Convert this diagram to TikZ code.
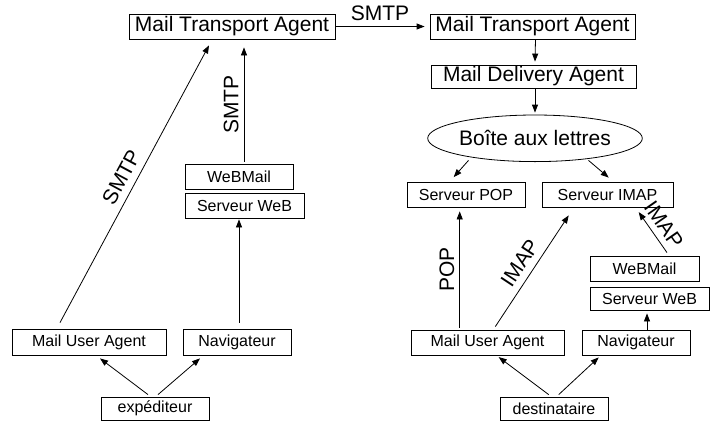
\documentclass[tikz,border=0pt]{standalone}
\usepackage{fontspec}
\setmainfont{Liberation Sans}
\usetikzlibrary{arrows.meta,shapes.geometric}

\tikzset{
  bigfont/.style={font=\fontsize{21}{25}\selectfont},
  smallfont/.style={font=\fontsize{16}{19}\selectfont},
  boxbase/.style={draw, line width=0.8pt, inner sep=0pt, anchor=center},
  bigbox/.style={boxbase, bigfont},
  smallbox/.style={boxbase, smallfont},
  link/.style={line width=0.8pt, -{Triangle[length=8pt,width=6pt]}},
  tag/.style={midway, sloped, bigfont, inner sep=0pt},
}

\begin{document}
\begin{tikzpicture}[x=1pt, y=-1pt]
\useasboundingbox (0,0) rectangle (717,421);

% sending side
\node[bigbox, minimum width=206pt, minimum height=25pt] (mtaL) at (232,26.5) {Mail Transport Agent};
\node[smallbox, minimum width=108pt, minimum height=25pt] (webmailL) at (239,176.5) {WeBMail};
\node[smallbox, minimum width=119pt, minimum height=25pt] (webL) at (244.5,205.5) {Serveur WeB};
\node[smallbox, minimum width=154pt, minimum height=26pt] (muaL) at (89,342) {Mail User Agent};
\node[smallbox, minimum width=108pt, minimum height=26pt] (navL) at (237,342) {Navigateur};
\node[smallbox, minimum width=108pt, minimum height=23pt] (exp) at (155,408.5) {expéditeur};

% receiving side
\node[bigbox, minimum width=205pt, minimum height=25pt] (mtaR) at (532.5,26.5) {Mail Transport Agent};
\node[bigbox, minimum width=205pt, minimum height=23pt] (mda) at (533.5,76.5) {Mail Delivery Agent};
\node[boxbase, bigfont, ellipse, minimum width=210pt, minimum height=46.6pt] (boite) at (535,138.3) {Boîte aux lettres};
\node[smallbox, minimum width=118pt, minimum height=25pt] (pop) at (466,194.5) {Serveur POP};
\node[smallbox, minimum width=131pt, minimum height=25pt] (imap) at (607.5,194.5) {Serveur IMAP};
\node[smallbox, minimum width=109pt, minimum height=25pt] (webmailR) at (644.5,268.5) {WeBMail};
\node[smallbox, minimum width=119pt, minimum height=23pt] (webR) at (649.5,298.5) {Serveur WeB};
\node[smallbox, minimum width=153pt, minimum height=25pt] (muaR) at (487.5,342.5) {Mail User Agent};
\node[smallbox, minimum width=108pt, minimum height=25pt] (navR) at (636,342.5) {Navigateur};
\node[smallbox, minimum width=108pt, minimum height=23pt] (dest) at (554,408.5) {destinataire};

% sending side connectors
\draw[link] ([xshift=-29pt,yshift=6pt]muaL.north) -- ([xshift=-23pt,yshift=-6pt]mtaL.south)
  node[tag, above=7pt] {SMTP};
\draw[link] ([xshift=5pt,yshift=2pt]webmailL.north) -- ([xshift=12pt,yshift=-8pt]mtaL.south)
  node[tag, above=5pt] {SMTP};
\draw[link] ([xshift=2pt,yshift=6pt]navL.north) -- ([xshift=-5.5pt,yshift=-1pt]webL.south);
\draw[link] ([xshift=-7pt,yshift=2pt]exp.north) -- ([xshift=11pt,yshift=-3pt]muaL.south);
\draw[link] ([xshift=3pt,yshift=2pt]exp.north) -- ([xshift=-37pt,yshift=-3pt]navL.south);

% relay between the transport agents
\draw[link] (mtaL.east) -- ([xshift=-5pt]mtaR.west)
  node[midway, bigfont, inner sep=0pt, above=5.5pt] {SMTP};

% receiving side connectors
\draw[link] ([xshift=3pt]mtaR.south) -- ([xshift=1.5pt,yshift=3pt]mda.north);
\draw[link] ([xshift=1.5pt]mda.south) -- ([yshift=2pt]boite.north);
\draw[link] ([xshift=-66.5pt,yshift=1.6pt]boite.south) -- ([xshift=-12.3pt,yshift=4.5pt]pop.north);
\draw[link] ([xshift=53.5pt,yshift=1.6pt]boite.south) -- ([xshift=1.2pt,yshift=4pt]imap.north);
\draw[link] ([xshift=-27.8pt,yshift=2pt]muaR.north) -- ([xshift=-6.3pt,yshift=-4pt]pop.south)
  node[tag, above=5pt] {POP};
\draw[link] ([xshift=7.8pt,yshift=3pt]muaR.north) -- ([xshift=-38.8pt,yshift=-8pt]imap.south)
  node[tag, above=7pt] {IMAP};
\draw[link] ([xshift=22.5pt,yshift=3pt]webmailR.north) -- ([xshift=31.2pt,yshift=-4.7pt]imap.south)
  node[tag, above=5.7pt] {IMAP};
\draw[link] ([xshift=11pt]navR.north) -- ([xshift=-2.5pt,yshift=-3pt]webR.south);
\draw[link] ([xshift=-5.3pt,yshift=2pt]dest.north) -- ([xshift=11.2pt,yshift=-1.7pt]muaR.south);
\draw[link] ([xshift=4.7pt,yshift=2pt]dest.north) -- ([xshift=-37.3pt,yshift=-2pt]navR.south);
\end{tikzpicture}
\end{document}
